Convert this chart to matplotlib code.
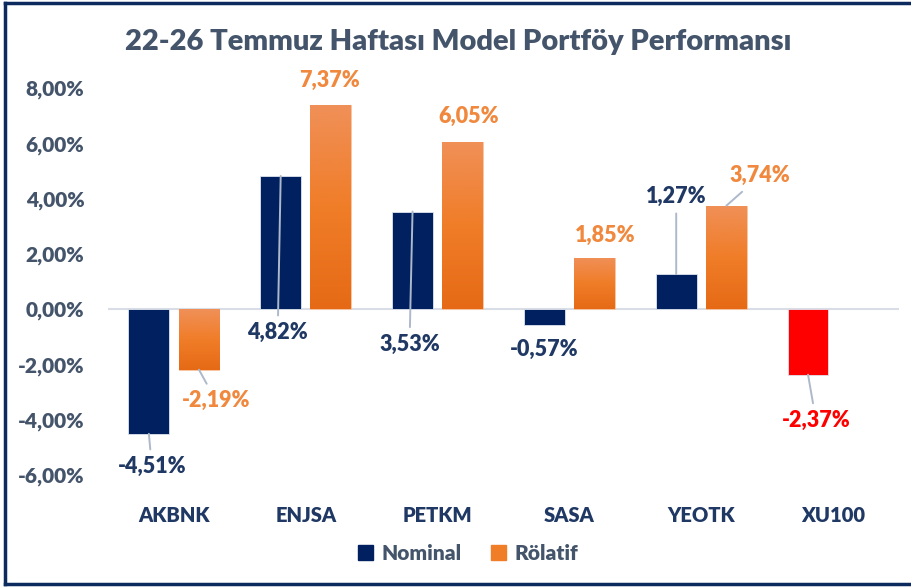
import numpy as np
import matplotlib.pyplot as plt
from matplotlib.colors import LinearSegmentedColormap
from matplotlib.patches import Patch
from matplotlib.lines import Line2D

plt.rcParams['font.family'] = ['Lato', 'DejaVu Sans']
plt.rcParams['font.weight'] = 'bold'

title = '22-26 Temmuz Haftası Model Portföy Performansı'
categories = ['AKBNK', 'ENJSA', 'PETKM', 'SASA', 'YEOTK', 'XU100']
nominal = [-4.51, 4.82, 3.53, -0.57, 1.27, -2.37]
rolatif = [-2.19, 7.37, 6.05, 1.85, 3.74]
series_names = ['Nominal', 'Rölatif']
yticks = [-6, -4, -2, 0, 2, 4, 6, 8]

# label offsets in pixels (dx, dy) from the bar end, and leader line on/off
nom_off = [(3, -33), (-3, -157), (-3, -133), (0, -25), (0, 78), (8, -46)]
nom_lead = [True, True, True, False, True, True]
rel_off = [(17, -31), (-1, 25), (6, 25), (11, 23), (34, 30)]
rel_lead = [True, False, False, False, True]

navy = '#002060'
orange = '#ed7d31'
red = '#ff0000'
txt = '#44546a'
cat_col = '#1f3864'
lead_col = '#adb9ca'

fig = plt.figure(figsize=(9.12, 5.87), dpi=100)
ax = fig.add_axes([108/912, 1-475/587, 791/912, 387/587])

x = np.arange(len(categories))
w = 0.31
off = 0.19

ncolors = [navy]*(len(categories)-1) + [red]
nbars = ax.bar(x - off, nominal, w, color=ncolors, edgecolor='#dfe4ee', linewidth=0.6, zorder=3)
rbars = ax.bar(x[:len(rolatif)] + off, rolatif, w, color=orange, edgecolor='#f7c7a5', linewidth=0.6, zorder=3)

# gradient on the orange bars
cmap = LinearSegmentedColormap.from_list('org', ['#f09058', '#f07d28', '#e66a16'])
grad = np.linspace(0, 1, 256).reshape(-1, 1)
for b in rbars:
    x0, y0 = b.get_x(), b.get_y()
    bw, bh = b.get_width(), b.get_height()
    lo, hi = min(y0, y0 + bh), max(y0, y0 + bh)
    im = ax.imshow(grad, cmap=cmap, aspect='auto', extent=(x0, x0 + bw, lo, hi),
                   origin='upper', zorder=3.5)
    im.set_clip_path(b)

ax.axhline(0, color='#d9dde6', lw=1.5, zorder=2)

ax.set_xlim(-0.5, len(categories) - 0.5)
ax.set_ylim(-6, 8)
ax.set_yticks(yticks)
ax.set_yticklabels([('%.2f%%' % v).replace('.', ',') for v in yticks],
                   color=txt, fontsize=15, fontweight='heavy')
ax.set_xticks(x)
ax.set_xticklabels(categories, color=cat_col, fontsize=14.5, fontweight='heavy')
ax.tick_params(axis='y', length=0, pad=17)
ax.tick_params(axis='x', length=0, pad=22)
for s in ax.spines.values():
    s.set_visible(False)


def fmt(v):
    return ('%.2f%%' % v).replace('.', ',')


def label(xv, yv, text, color, o, lead):
    ap = dict(arrowstyle='-', color=lead_col, lw=1.4, shrinkA=3, shrinkB=0) if lead else None
    ax.annotate(text, xy=(xv, yv), xytext=o, textcoords='offset pixels',
                ha='center', va='center', color=color, fontsize=15.5,
                fontweight='heavy', arrowprops=ap, zorder=5)


for i, v in enumerate(nominal):
    label(x[i] - off, v, fmt(v), ncolors[i] if i == len(categories)-1 else cat_col, nom_off[i], nom_lead[i])
for i, v in enumerate(rolatif):
    label(x[i] + off, v, fmt(v), '#f0883e', rel_off[i], rel_lead[i])

fig.text(458/912, 1-42/587, title, ha='center', va='center', color=txt,
         fontsize=21, fontweight='heavy')

handles = [Patch(color=navy), Patch(color='#f07d28')]
leg = fig.legend(handles, series_names, loc='center', bbox_to_anchor=(468/912, 1-553/587),
                 ncol=2, frameon=False, handlelength=0.75, handleheight=0.75,
                 handletextpad=0.4, columnspacing=1.4, prop=dict(size=15, weight='heavy'))
for t in leg.get_texts():
    t.set_color(txt)

# outer frame (left, top, bottom)
bc = '#0c2a5e'
fig.add_artist(Line2D([5/912, 5/912], [1-3/587, 1-584/587], transform=fig.transFigure, color=bc, lw=2.5))
fig.add_artist(Line2D([5/912, 1], [1-3/587, 1-3/587], transform=fig.transFigure, color=bc, lw=2.5))
fig.add_artist(Line2D([5/912, 1], [1-584/587, 1-584/587], transform=fig.transFigure, color=bc, lw=2.5))

fig.savefig('out.png', dpi=100)
